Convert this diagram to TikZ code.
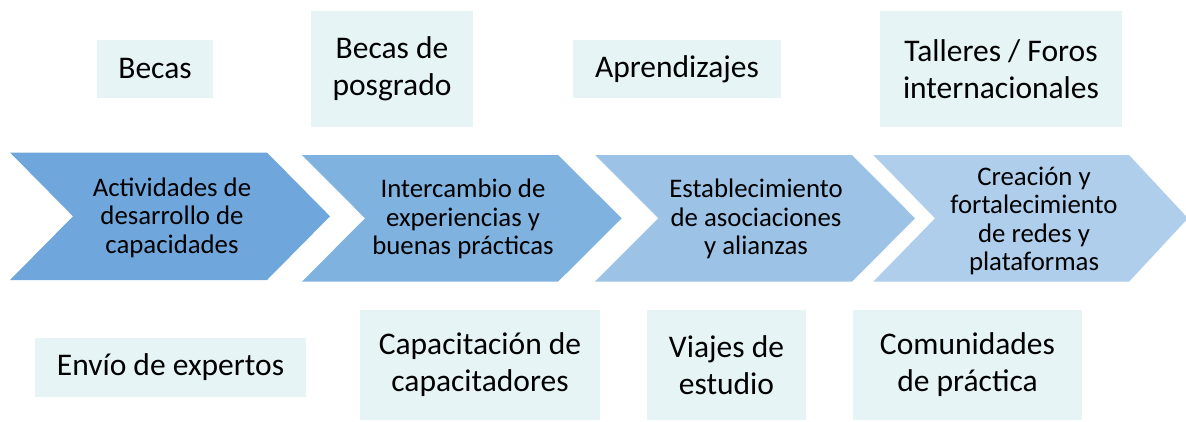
\documentclass[tikz,border=0pt]{standalone}
\usepackage{fontspec}
\setmainfont{Carlito}
\definecolor{chevA}{HTML}{6FA6DB}
\definecolor{chevB}{HTML}{80B2E0}
\definecolor{chevC}{HTML}{9CC2E6}
\definecolor{chevD}{HTML}{AFCEEC}
\definecolor{boxfill}{HTML}{E6F4F5}
\tikzset{
  chevtext/.style={align=center, inner sep=0pt, font=\fontsize{26.8}{28.5}\selectfont, text=black},
  tagbox/.style={fill=boxfill, draw=none, inner sep=0pt, align=center, font=\fontsize{31.5}{37}\selectfont, text=black},
}
\begin{document}
\begin{tikzpicture}[x=1pt,y=-1pt]
\useasboundingbox (0,0) rectangle (1186,421);
% chevrons
\fill[chevA] (10,152.5) -- (267,152.5) -- (330,216.3) -- (267,280) -- (10,280) -- (73,216.3) -- cycle;
\fill[chevB] (302,155) -- (558,155) -- (621.7,218.3) -- (558,281.7) -- (302,281.7) -- (365,218.3) -- cycle;
\fill[chevC] (595,155) -- (852,155) -- (915,218.3) -- (852,281.7) -- (595,281.7) -- (658.3,218.3) -- cycle;
\begin{scope}
\clip (0,0) rectangle (1186,421);
\fill[chevD] (873.3,155) -- (1129,155) -- (1188,218.3) -- (1129,281.7) -- (873.3,281.7) -- (935,218.3) -- cycle;
\end{scope}
% chevron texts
\node[chevtext] (c1) at (172,217.5) {Actividades de\\desarrollo de\\capacidades};
\node[chevtext] (c2) at (463,219) {Intercambio de\\experiencias y\\buenas prácticas};
\node[chevtext] (c3) at (756,219) {Establecimiento\\de asociaciones\\y alianzas};
\node[chevtext] (c4) at (1034,221) {Creación y\\fortalecimiento\\de redes y\\plataformas};
% top boxes
\node[tagbox, minimum width=116pt, minimum height=57.7pt] (b1) at (155,68.8) {Becas};
\node[tagbox, minimum width=162pt, minimum height=115.7pt] (b2) at (392,68.8) {Becas de\\posgrado};
\node[tagbox, minimum width=208pt, minimum height=57.7pt] (b3) at (677,68.8) {Aprendizajes};
\node[tagbox, minimum width=242pt, minimum height=115.7pt] (b4) at (1001,68.8) {Talleres / Foros\\internacionales};
% bottom boxes
\node[tagbox, minimum width=271pt, minimum height=59pt] (d1) at (170.5,367.5) {Envío de expertos};
\node[tagbox, minimum width=240pt, minimum height=110pt] (d2) at (480,365) {Capacitación de\\capacitadores};
\node[tagbox, minimum width=159pt, minimum height=110pt] (d3) at (726.5,365) {Viajes de\\estudio};
\node[tagbox, minimum width=229pt, minimum height=110pt] (d4) at (967.5,365) {Comunidades\\de práctica};
\end{tikzpicture}
\end{document}
